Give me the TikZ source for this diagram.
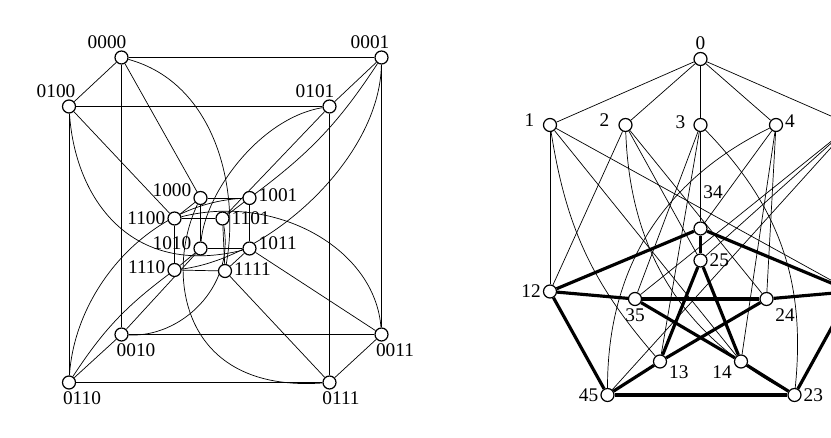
\documentclass[tikz,border=0pt]{standalone}
\usepackage{fontspec}
\setmainfont{Liberation Serif}
\usepackage{tikz}
\usetikzlibrary{backgrounds}
\tikzset{
  vertex/.style={circle, draw, fill=white, line width=0.7pt, minimum size=0.26cm, inner sep=0pt},
  vlabel/.style={font=\fontsize{11}{13}\selectfont, inner sep=1pt},
  thin-edge/.style={line width=0.7pt},
  petersen-edge/.style={line width=1.8pt}
}
\begin{document}
\begin{tikzpicture}[label distance=0pt]
\useasboundingbox (0,0) rectangle (16.62,8.76);

% Folded cube: outer vertices
\node[vertex, label={[vlabel,xshift=-0.29cm]above:0000}] (q0000) at (2.43,7.61) {};
\node[vertex, label={[vlabel,xshift=-0.23cm]above:0001}] (q0001) at (7.63,7.61) {};
\node[vertex, label={[vlabel,xshift=-0.26cm]above:0100}] (q0100) at (1.38,6.63) {};
\node[vertex, label={[vlabel,xshift=-0.29cm]above:0101}] (q0101) at (6.59,6.63) {};
\node[vertex, label={[vlabel,xshift=0.29cm]below:0010}] (q0010) at (2.43,2.07) {};
\node[vertex, label={[vlabel,xshift=0.27cm]below:0011}] (q0011) at (7.63,2.07) {};
\node[vertex, label={[vlabel,xshift=0.26cm]below:0110}] (q0110) at (1.38,1.11) {};
\node[vertex, label={[vlabel,xshift=0.23cm]below:0111}] (q0111) at (6.59,1.11) {};

% Folded cube: inner vertices
\node[vertex, label={[vlabel,yshift=0.16cm]left:1000}] (q1000) at (4.01,4.80) {};
\node[vertex, label={[vlabel,yshift=0.06cm]right:1001}] (q1001) at (4.99,4.80) {};
\node[vertex, label={[vlabel]left:1100}] (q1100) at (3.49,4.39) {};
\node[vertex, label={[vlabel]right:1101}] (q1101) at (4.45,4.39) {};
\node[vertex, label={[vlabel,yshift=0.11cm]left:1010}] (q1010) at (4.01,3.79) {};
\node[vertex, label={[vlabel,yshift=0.11cm]right:1011}] (q1011) at (4.99,3.79) {};
\node[vertex, label={[vlabel,yshift=0.06cm]left:1110}] (q1110) at (3.49,3.36) {};
\node[vertex, label={[vlabel,yshift=0.04cm]right:1111}] (q1111) at (4.50,3.34) {};

% Clebsch graph vertices (5 and 15 lie past the right edge)
\node[vertex, label={[vlabel]above:0}] (c0) at (14.01,7.58) {};
\node[vertex, label={[vlabel,label distance=0.13cm,yshift=0.1cm]left:1}] (c1) at (11.00,6.26) {};
\node[vertex, label={[vlabel,label distance=0.14cm,yshift=0.1cm]left:2}] (c2) at (12.51,6.26) {};
\node[vertex, label={[vlabel,label distance=0.12cm,yshift=0.06cm]left:3}] (c3) at (14.01,6.26) {};
\node[vertex, label={[vlabel,yshift=0.08cm]right:4}] (c4) at (15.52,6.26) {};
\node[vertex] (c5) at (17.03,6.26) {};
\node[vertex, label={[vlabel,label distance=0.41cm,xshift=0.25cm]above:34}] (c34) at (14.01,4.19) {};
\node[vertex, label={[vlabel]right:25}] (c25) at (14.01,3.55) {};
\node[vertex, label={[vlabel]left:12}] (c12) at (11.00,2.93) {};
\node[vertex] (c15) at (17.03,2.93) {};
\node[vertex, label={[vlabel]below:35}] (c35) at (12.70,2.78) {};
\node[vertex, label={[vlabel,xshift=0.37cm]below:24}] (c24) at (15.33,2.78) {};
\node[vertex, label={[vlabel,yshift=-0.21cm]right:13}] (c13) at (13.20,1.53) {};
\node[vertex, label={[vlabel,yshift=-0.21cm]left:14}] (c14) at (14.82,1.53) {};
\node[vertex, label={[vlabel]left:45}] (c45) at (12.15,0.86) {};
\node[vertex, label={[vlabel]right:23}] (c23) at (15.89,0.86) {};

\begin{scope}[on background layer, thin-edge]
% cube edges
\foreach \a/\b in {0000/0001, 0000/0010, 0000/0100, 0001/0011, 0001/0101, 0010/0011,
  0010/0110, 0011/0111, 0100/0101, 0100/0110, 0101/0111, 0110/0111,
  1000/1001, 1000/1010, 1000/1100, 1001/1011, 1001/1101, 1010/1011,
  1010/1110, 1011/1111, 1100/1101, 1100/1110, 1101/1111, 1110/1111,
  0000/1000, 0010/1010, 0011/1011, 0100/1100, 0101/1101, 0111/1111}
  \draw (q\a) -- (q\b);
\draw (q0001) to[bend left=10] (q1001);
\draw (q0110) to[bend left=10] (q1110);

% antipodal edges
\draw (q0000) .. controls (4.3,7.1) and (4.8,5.0) .. (q1111);
\draw (q0111) .. controls (3.6,0.9) and (3.3,3.3) .. (q1000);
\draw (q0100) .. controls (1.5,4.8) and (2.6,3.2) .. (q1011);
\draw (q0011) .. controls (7.5,3.8) and (5.5,4.9) .. (q1100);
\draw (q0001) .. controls (7.6,5.6) and (5.4,3.6) .. (q1110);
\draw (q0110) .. controls (1.5,3.0) and (3.0,4.7) .. (q1001);
\draw (q0101) .. controls (5.2,6.4) and (4.1,4.9) .. (q1010);
\draw (q0010) .. controls (3.6,2.0) and (4.7,3.0) .. (q1101);

% Clebsch thin edges
\foreach \a in {1,...,5}
  \draw (c0) -- (c\a);
\foreach \a/\b in {1/12, 1/14, 1/15, 2/12, 2/24, 2/25, 3/13, 3/34, 3/35,
  4/14, 4/24, 4/34, 5/15, 5/25, 5/35, 5/45}
  \draw (c\a) -- (c\b);
\draw (c1) to[bend right=16] (c13);
\draw (c2) to[bend right=30] (c23);
\draw (c3) to[bend left=25] (c23);
\draw (c4) to[bend right=32] (c45);

% Petersen subgraph
\foreach \a/\b in {34/12, 12/45, 45/23, 23/15, 15/34, 34/25, 12/35, 15/24,
  45/13, 23/14, 25/13, 25/14, 35/24, 35/14, 24/13}
  \draw[petersen-edge] (c\a) -- (c\b);
\end{scope}
\end{tikzpicture}
\end{document}
